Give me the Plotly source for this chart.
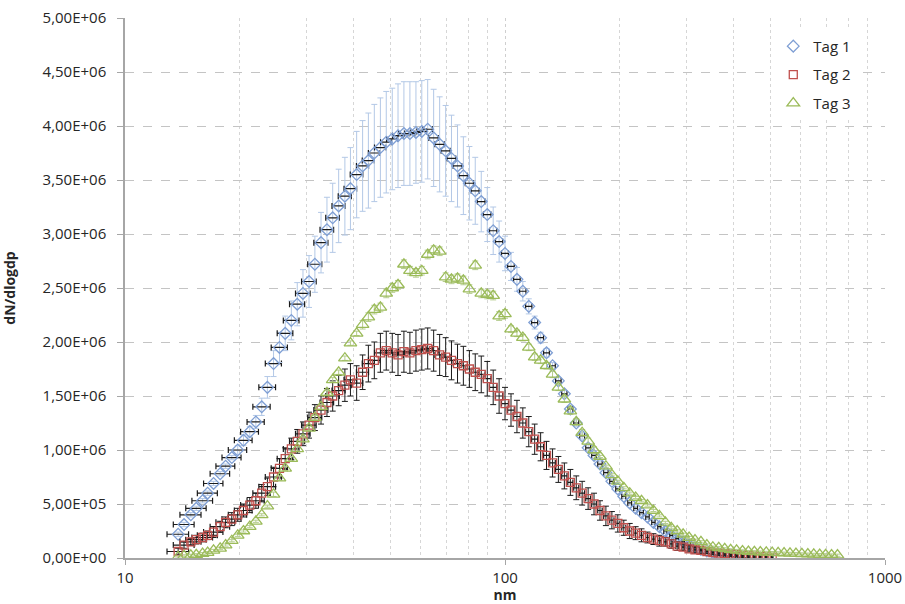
import plotly.graph_objects as go

# Particle diameters (nm), SMPS channels
diameters = [13.8, 14.3, 14.9, 15.4, 16.0, 16.5, 17.1, 17.8, 18.4, 19.1, 19.8, 20.5, 21.3, 22.1, 22.9,
             23.7, 24.6, 25.5, 26.4, 27.4, 28.4, 29.4, 30.5, 31.6, 32.8, 34.0, 35.2, 36.5, 37.9, 39.2,
             40.7, 42.2, 43.7, 45.3, 47.0, 48.7, 50.5, 52.3, 54.2, 56.2, 58.3, 60.4, 62.6, 64.9, 67.3,
             69.8, 72.3, 75.0, 77.7, 80.6, 83.5, 86.6, 89.8, 93.1, 96.5, 100.0, 103.7, 107.5, 111.4,
             115.5, 119.7, 124.1, 128.6, 133.4, 138.2, 143.3, 148.6, 154.0, 159.6, 165.5, 171.5, 177.8,
             184.3, 191.1, 198.1, 205.4, 212.9, 220.7, 228.7, 237.1, 245.8, 254.8, 264.2, 273.8, 283.9,
             294.3, 305.1, 316.2, 327.8, 339.8, 352.3, 365.2, 378.6, 392.4, 406.8, 421.7, 437.1, 453.2,
             469.8, 487.0, 504.8, 523.3, 542.5, 562.3, 583.0, 604.3, 626.5, 649.4, 673.2, 697.8, 723.4,
             749.9]

# horizontal uncertainty of diameter (nm)
diameter_err = [0.9, 0.9, 0.95, 0.95, 1.0, 1.0, 1.0, 1.05, 1.05, 1.1, 1.1, 1.1, 1.15, 1.15, 1.2,
                1.2, 1.2, 1.25, 1.25, 1.3, 1.3, 1.3, 1.35, 1.35, 1.4, 1.4, 1.45, 1.45, 1.5, 1.5,
                1.55, 1.55, 1.6, 1.6, 1.65, 1.65, 1.7, 1.7, 1.75, 1.75, 1.8, 1.8, 1.85, 1.85, 1.9,
                1.9, 1.9, 1.95, 1.95, 2.0, 2.0, 2.0, 2.05, 2.05, 2.1, 2.1, 2.1, 2.15, 2.15, 2.2,
                2.2, 2.2, 2.25, 2.25, 2.3, 2.3, 2.3, 2.35, 2.35, 2.4, 2.4, 2.4, 2.45, 2.45, 2.5,
                2.5, 2.5, 2.5, 2.5, 2.5, 2.5, 2.5, 2.5, 2.5, 2.5, 2.5, 2.5, 2.5, 2.5, 2.5,
                2.5, 2.5, 2.5, 2.5, 2.5, 2.5, 2.5, 2.5, 2.5, 2.5, 2.5, 2.5, 2.5, 2.5, 2.5,
                2.5, 2.5, 2.5, 2.5, 2.5, 2.5, 2.5]

# dN/dlogdp values in units of 1E+06
tag1 = [0.22, 0.31, 0.40, 0.46, 0.53, 0.60, 0.69, 0.78, 0.85, 0.93, 1.00, 1.09, 1.17, 1.26, 1.40,
        1.58, 1.80, 1.95, 2.08, 2.20, 2.35, 2.45, 2.56, 2.72, 2.92, 3.04, 3.15, 3.26, 3.35, 3.42,
        3.55, 3.63, 3.68, 3.75, 3.80, 3.85, 3.88, 3.91, 3.93, 3.93, 3.94, 3.95, 3.97, 3.89, 3.83,
        3.77, 3.70, 3.63, 3.54, 3.47, 3.40, 3.30, 3.18, 3.03, 2.93, 2.82, 2.70, 2.58, 2.47, 2.33,
        2.18, 2.04, 1.90, 1.78, 1.64, 1.52, 1.38, 1.25, 1.13, 1.02, 0.95, 0.87, 0.79, 0.71, 0.64,
        0.57, 0.51, 0.46, 0.42, 0.38, 0.33, 0.29, 0.25, 0.21, 0.18, 0.15, 0.12, 0.10, 0.08, 0.065,
        0.05, 0.04, 0.03, 0.025, 0.02, 0.015, 0.01]
tag1_err = [0.02, 0.02, 0.02, 0.02, 0.02, 0.02, 0.02, 0.02, 0.02, 0.02, 0.04, 0.05, 0.05, 0.06, 0.08,
            0.10, 0.12, 0.14, 0.16, 0.18, 0.20, 0.22, 0.24, 0.26, 0.28, 0.30, 0.32, 0.34, 0.36, 0.38,
            0.40, 0.42, 0.44, 0.45, 0.46, 0.47, 0.47, 0.48, 0.48, 0.48, 0.47, 0.47, 0.46, 0.45, 0.44,
            0.42, 0.40, 0.38, 0.36, 0.34, 0.31, 0.28, 0.25, 0.22, 0.19, 0.16, 0.13, 0.11, 0.09, 0.07,
            0.06, 0.05, 0.04, 0.03, 0.03, 0.03, 0.03, 0.03, 0.03, 0.03, 0.03, 0.03, 0.03, 0.02, 0.02,
            0.02, 0.02, 0.02, 0.02, 0.02, 0.02, 0.02, 0.02, 0.01, 0.01, 0.01, 0.01, 0.01, 0.01, 0.01,
            0.01, 0.01, 0.01, 0.01, 0.01, 0.01, 0.01]

tag2 = [0.06, 0.12, 0.15, 0.17, 0.19, 0.21, 0.24, 0.29, 0.33, 0.36, 0.40, 0.44, 0.49, 0.53, 0.60,
        0.66, 0.75, 0.83, 0.92, 1.01, 1.08, 1.15, 1.23, 1.30, 1.37, 1.44, 1.50, 1.55, 1.60, 1.65,
        1.62, 1.72, 1.80, 1.83, 1.90, 1.92, 1.90, 1.88, 1.91, 1.90, 1.92, 1.93, 1.94, 1.92, 1.88,
        1.86, 1.83, 1.80, 1.78, 1.75, 1.72, 1.70, 1.66, 1.58, 1.50, 1.43, 1.37, 1.31, 1.25, 1.17,
        1.10, 1.03, 0.95, 0.88, 0.82, 0.76, 0.70, 0.65, 0.60, 0.55, 0.50, 0.44, 0.39, 0.35, 0.32,
        0.28, 0.25, 0.23, 0.21, 0.19, 0.175, 0.16, 0.15, 0.13, 0.11, 0.10, 0.085, 0.075, 0.07, 0.06,
        0.05, 0.045, 0.04, 0.035, 0.03, 0.025, 0.02, 0.016, 0.012, 0.009, 0.006]
tag2_err = [0.03, 0.03, 0.03, 0.04, 0.04, 0.04, 0.05, 0.05, 0.05, 0.06,
            0.06, 0.06, 0.07, 0.07, 0.08, 0.08, 0.09, 0.09, 0.10, 0.10,
            0.11, 0.11, 0.12, 0.12, 0.13, 0.13, 0.14, 0.14, 0.15, 0.15,
            0.16, 0.16, 0.17, 0.17, 0.18, 0.18, 0.18, 0.19, 0.19, 0.19,
            0.19, 0.19, 0.19, 0.19, 0.19, 0.18, 0.18, 0.18, 0.18, 0.17,
            0.17, 0.17, 0.16, 0.16, 0.16, 0.15, 0.15, 0.15, 0.14, 0.14,
            0.14, 0.13, 0.13, 0.13, 0.12, 0.12, 0.12, 0.11, 0.11, 0.10,
            0.10, 0.09, 0.09, 0.08, 0.08, 0.07, 0.07, 0.06, 0.06, 0.05,
            0.05, 0.05, 0.04, 0.04, 0.04, 0.03, 0.03, 0.03, 0.03, 0.02,
            0.02, 0.02, 0.02, 0.02, 0.02, 0.02, 0.02, 0.02, 0.02, 0.02, 0.02]

tag3 = [0.01, 0.02, 0.025, 0.03, 0.04, 0.05, 0.07, 0.09, 0.12, 0.16, 0.21, 0.25, 0.29, 0.34, 0.40,
        0.48, 0.59, 0.74, 0.83, 0.92, 1.01, 1.10, 1.20, 1.30, 1.40, 1.53, 1.65, 1.72, 1.85, 1.99,
        2.08, 2.16, 2.23, 2.30, 2.32, 2.45, 2.50, 2.53, 2.72, 2.66, 2.64, 2.66, 2.81, 2.85, 2.84,
        2.60, 2.58, 2.59, 2.57, 2.49, 2.71, 2.45, 2.44, 2.43, 2.24, 2.26, 2.12, 2.08, 2.04, 1.95,
        1.86, 1.83, 1.78, 1.70, 1.58, 1.47, 1.36, 1.26, 1.16, 1.08, 1.00, 0.94, 0.85, 0.77, 0.71,
        0.65, 0.60, 0.56, 0.53, 0.49, 0.44, 0.39, 0.33, 0.28, 0.25, 0.22, 0.19, 0.165, 0.15, 0.12,
        0.10, 0.095, 0.085, 0.075, 0.07, 0.065, 0.06, 0.058, 0.055, 0.052, 0.05, 0.048, 0.045, 0.043, 0.04,
        0.038, 0.036, 0.034, 0.032, 0.03, 0.028, 0.026]
tag3_err = [0.01, 0.01, 0.01, 0.01, 0.01, 0.01, 0.01, 0.01, 0.01, 0.01, 0.01, 0.01, 0.01, 0.01, 0.01,
            0.01, 0.02, 0.02, 0.02, 0.02, 0.02, 0.02, 0.02, 0.02, 0.02, 0.02, 0.02, 0.02, 0.02, 0.02,
            0.02, 0.04, 0.04, 0.04, 0.04, 0.04, 0.04, 0.04, 0.04, 0.04, 0.04, 0.04, 0.04, 0.04, 0.04,
            0.04, 0.04, 0.04, 0.04, 0.04, 0.04, 0.04, 0.04, 0.04, 0.04, 0.04, 0.03, 0.03, 0.03, 0.03,
            0.03, 0.03, 0.03, 0.03, 0.03, 0.03, 0.03, 0.03, 0.03, 0.03, 0.03, 0.01, 0.01, 0.01, 0.01,
            0.01, 0.01, 0.01, 0.01, 0.01, 0.01, 0.01, 0.01, 0.01, 0.01, 0.01, 0.01, 0.01, 0.01, 0.01,
            0.01, 0.01, 0.01, 0.01, 0.01, 0.01, 0.01, 0.01, 0.01, 0.01, 0.01, 0.01, 0.01, 0.01, 0.01,
            0.01, 0.01, 0.01, 0.01, 0.01, 0.01, 0.01]

series_names = ["Tag 1", "Tag 2", "Tag 3"]
y_tick_vals = [0, 0.5e6, 1.0e6, 1.5e6, 2.0e6, 2.5e6, 3.0e6, 3.5e6, 4.0e6, 4.5e6, 5.0e6]
y_tick_text = ["0,00E+00", "5,00E+05", "1,00E+06", "1,50E+06", "2,00E+06", "2,50E+06",
               "3,00E+06", "3,50E+06", "4,00E+06", "4,50E+06", "5,00E+06"]
x_tick_vals = [10, 100, 1000]
x_tick_text = ["10", "100", "1000"]

M = 1e6
FONT = "Open Sans"

fig = go.Figure()

def add(name, vals, errs, n, color, symbol, size, ycolor, show_x):
    fig.add_trace(go.Scatter(
        x=diameters[:n], y=[v * M for v in vals], name=name, mode="markers",
        legendgroup=name,
        marker=dict(symbol=symbol, size=size, color=color,
                    line=dict(color=color, width=1.3)),
        error_y=dict(type="data", array=[e * M for e in errs], color=ycolor,
                     thickness=1, width=3),
        error_x=(dict(type="data", array=diameter_err[:n], color="#1a1a1a",
                      thickness=1.2, width=3) if show_x else dict(visible=False)),
    ))

add(series_names[0], tag1, tag1_err, len(tag1), "#7f9fd4", "diamond-open", 9, "#b3c8e6", True)
add(series_names[1], tag2, tag2_err, len(tag2), "#c0504d", "square-open", 8, "#1a1a1a", True)
add(series_names[2], tag3, tag3_err, len(tag3), "#9bbb59", "triangle-up-open", 11, "#b5cc8e", False)

fig.update_layout(
    width=905, height=604,
    margin=dict(l=125, r=20, t=18, b=46, autoexpand=False),
    paper_bgcolor="white", plot_bgcolor="white",
    font=dict(family=FONT, size=15, color="#262626"),
    showlegend=True,
    legend=dict(x=0.853, y=0.978, xanchor="left", yanchor="top", bgcolor="white",
                font=dict(size=15, color="#262626"), tracegroupgap=6),
    xaxis=dict(
        type="log", range=[1, 3], tickvals=x_tick_vals, ticktext=x_tick_text,
        showgrid=True, gridcolor="#cfcfcf", griddash="dot", gridwidth=1,
        showline=True, linecolor="#a6a6a6", linewidth=1.5,
        ticks="outside", ticklen=5, tickcolor="#a6a6a6",
        minor=dict(dtick="D1", showgrid=True, gridcolor="#d6d6d6", griddash="dot", ticks=""),
        title=dict(text="<b>nm</b>", font=dict(size=14), standoff=0),
        zeroline=False, automargin=False,
    ),
    yaxis=dict(
        range=[0, 5e6], tickvals=y_tick_vals, ticktext=y_tick_text,
        showgrid=True, gridcolor="#c4c4c4", griddash="dash", gridwidth=1,
        showline=True, linecolor="#a6a6a6", linewidth=1.5,
        ticks="outside", ticklen=6, tickcolor="#a6a6a6",
        ticklabelstandoff=8,
        title=dict(text="<b>dN/dlogdp</b>", font=dict(size=14), standoff=28),
        zeroline=False, automargin=False,
    ),
)

fig.write_html("out.html")
